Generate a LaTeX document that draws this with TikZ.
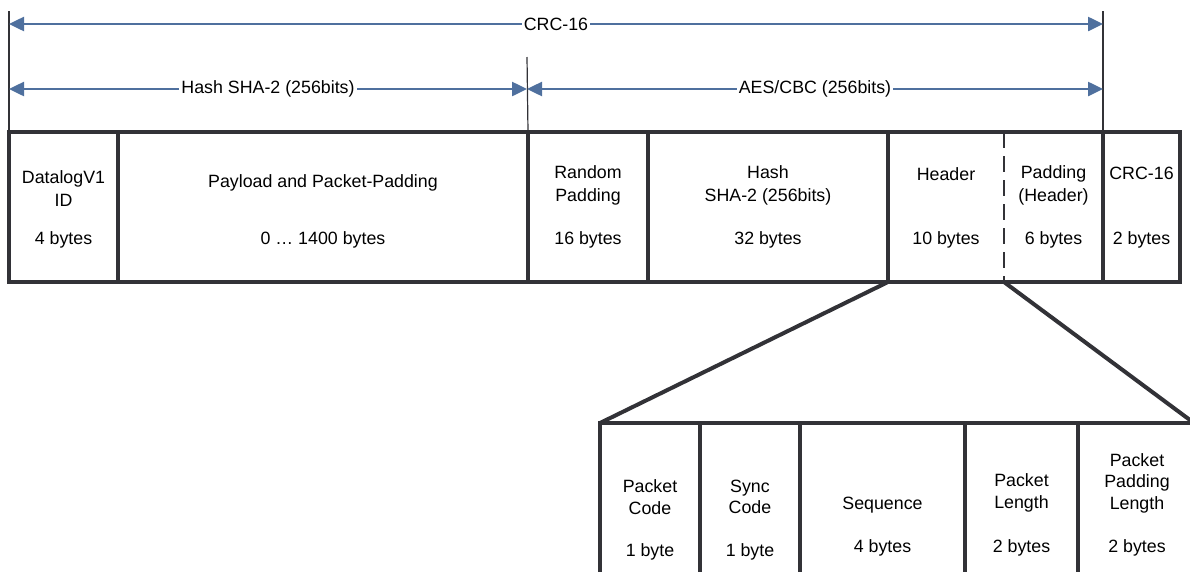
\documentclass[tikz,border=0pt]{standalone}
\usepackage{fontspec}
\setmainfont{Liberation Sans}
\usetikzlibrary{arrows.meta}
\definecolor{dimblue}{RGB}{79,112,158}
\definecolor{boxgray}{RGB}{50,50,55}

\begin{document}
\begin{tikzpicture}[x=1pt,y=-1pt,
  boxline/.style={draw=boxgray,line width=4pt},
  cell/.style={boxline,inner sep=0pt,outer sep=0pt,minimum height=150pt},
  subcell/.style={cell,minimum height=177pt},
  lbl/.style={align=center,inner sep=0pt,font=\fontsize{17.8}{23}\selectfont},
  sublbl/.style={lbl,font=\fontsize{17.8}{21.5}\selectfont},
  dimline/.style={draw=dimblue,line width=2.5pt,
    arrows={Triangle[length=15pt,width=14pt]-Triangle[length=15pt,width=14pt]}},
  dimlbl/.style={lbl,fill=white,inner sep=2pt},
  guide/.style={draw=boxgray,line width=1.2pt},
  split/.style={draw=boxgray,line width=2.5pt,dash pattern=on 16pt off 8pt}]
  \useasboundingbox (0,0) rectangle (1190,571);
  \clip (0,0) rectangle (1190,571);

  % message frame
  \node[cell,minimum width=109pt] (id) at (63.5,207) {};
  \node[cell,minimum width=410pt] (pay) at (323,207) {};
  \node[cell,minimum width=120pt] (rnd) at (588,207) {};
  \node[cell,minimum width=240pt] (hsh) at (768,207) {};
  \node[cell,draw=none,minimum width=116pt] (hdr) at (946,207) {};
  \node[cell,draw=none,minimum width=99pt] (pad) at (1053.5,207) {};
  \node[cell,minimum width=77pt] (crc) at (1141.5,207) {};
  \draw[boxline] (hdr.north west) rectangle (pad.south east);
  \draw[split] (hdr.north east) -- (hdr.south east);

  \node[lbl] (idname) at (63.5,189) {DatalogV1\\ID};
  \node[lbl] (idsize) at (63.5,240) {4 bytes};
  \node[lbl] (payname) at (323,183) {Payload and Packet-Padding};
  \node[lbl] (paysize) at (323,240) {0 … 1400 bytes};
  \node[lbl] (rndname) at (588,185) {Random\\Padding};
  \node[lbl] (rndsize) at (588,240) {16 bytes};
  \node[lbl] (hshname) at (768,185) {Hash\\SHA-2 (256bits)};
  \node[lbl] (hshsize) at (768,240) {32 bytes};
  \node[lbl] (hdrname) at (946,174) {Header};
  \node[lbl] (hdrsize) at (946,240) {10 bytes};
  \node[lbl] (padname) at (1053.5,185) {Padding\\(Header)};
  \node[lbl] (padsize) at (1053.5,240) {6 bytes};
  \node[lbl] (crcname) at (1141.5,173) {CRC-16};
  \node[lbl] (crcsize) at (1141.5,240) {2 bytes};

  % dimension lines
  \coordinate (gl) at (9,11);
  \coordinate (gm) at (527,57);
  \coordinate (gr) at (1103,11);
  \draw[guide] (gl) -- (id.north west);
  \draw[guide] (gm) -- (rnd.north west);
  \draw[guide] (gr) -- (crc.south west);
  \coordinate (crcs) at (9,24);
  \coordinate (crce) at (1103,24);
  \coordinate (shas) at (9,89);
  \coordinate (shae) at (527,89);
  \coordinate (aese) at (1103,89);
  \draw[dimline] (crcs) -- node[dimlbl] (crclbl) {CRC-16} (crce);
  \draw[dimline] (shas) -- node[dimlbl] (shalbl) {Hash SHA-2 (256bits)} (shae);
  \draw[dimline] (shae) -- node[dimlbl] (aeslbl) {AES/CBC (256bits)} (aese);

  % header detail
  \node[subcell,minimum width=100pt] (pc) at (650,511.5) {};
  \node[subcell,minimum width=100pt] (sc) at (750,511.5) {};
  \node[subcell,minimum width=165pt] (seq) at (882.5,511.5) {};
  \node[subcell,minimum width=113pt] (pl) at (1021.5,511.5) {};
  \node[subcell,minimum width=116pt] (ppl) at (1136,511.5) {};
  \draw[boxline] (hdr.south west) -- (pc.north west);
  \draw[boxline] (pad.south west) -- (ppl.north east);

  \node[sublbl] (pcname) at (650,497) {Packet\\Code};
  \node[sublbl] (pcsize) at (650,552) {1 byte};
  \node[sublbl] (scname) at (750,497) {Sync\\Code};
  \node[sublbl] (scsize) at (750,552) {1 byte};
  \node[sublbl] (seqname) at (882.5,505) {Sequence};
  \node[sublbl] (seqsize) at (882.5,548) {4 bytes};
  \node[sublbl] (plname) at (1021.5,493) {Packet\\Length};
  \node[sublbl] (plsize) at (1021.5,548) {2 bytes};
  \node[sublbl] (pplname) at (1137,483) {Packet\\Padding\\Length};
  \node[sublbl] (pplsize) at (1137,548) {2 bytes};
\end{tikzpicture}
\end{document}
